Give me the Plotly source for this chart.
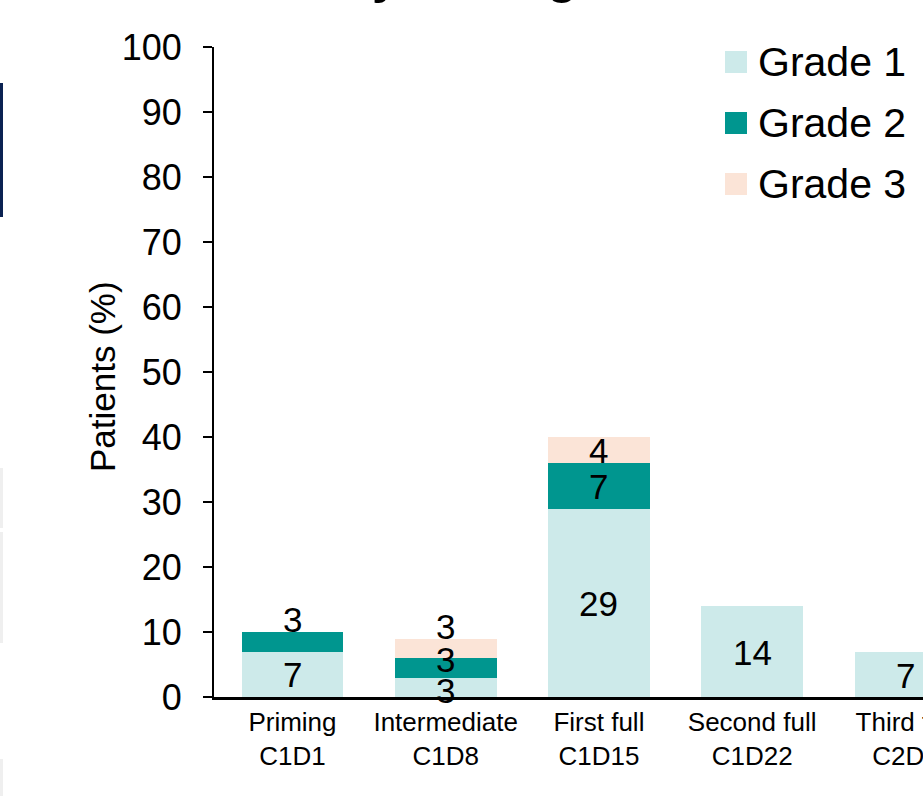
import plotly.graph_objects as go

# ---- data ----
categories = ["Priming<br>C1D1", "Intermediate<br>C1D8", "First full<br>C1D15",
              "Second full<br>C1D22", "Third full<br>C2D1"]
grade1 = [7, 3, 29, 14, 7]
grade2 = [3, 3, 7, 0, 0]
grade3 = [0, 3, 4, 0, 0]
series_names = ["Grade 1", "Grade 2", "Grade 3"]
y_ticks = list(range(0, 101, 10))
title_text = "CRS by dosing"
y_title = "Patients (%)"

# ---- style ----
colors = ["#CDEAEA", "#00968F", "#FBE4D7"]
FONT = "Liberation Sans, Arial, sans-serif"
W, H = 923, 796
ML, MR, MT, MB = 214, 0, 47, 99
PW, PH = W - ML - MR, H - MT - MB

# label pixel nudges (style only) per series, per category
label_shift = {
    0: [0, -3, -1, -1, -1],
    1: [22, 8, -1, 0, 0],
    2: [0, 22, 0, 0, 0],
}

def px(xp):
    return (xp - ML) / PW

def py(yp):
    return (H - MB - yp) / PH

series = [grade1, grade2, grade3]
fig = go.Figure()
for name, vals, col in zip(series_names, series, colors):
    fig.add_trace(go.Bar(x=categories, y=vals, name=name, marker_color=col,
                         marker_line_width=0, showlegend=False, hoverinfo="skip"))

annotations = []
base = [0] * len(categories)
for si, vals in enumerate(series):
    for ci, v in enumerate(vals):
        if v > 0:
            annotations.append(dict(
                x=categories[ci], y=base[ci] + v / 2, xref="x", yref="y",
                text=str(v), showarrow=False, yshift=label_shift[si][ci],
                font=dict(family=FONT, size=35, color="black"),
                xanchor="center", yanchor="middle"))
        base[ci] += v

# manual legend
legend_rows = [62, 123, 184]
shapes = []
for name, col, yc in zip(series_names, colors, legend_rows):
    shapes.append(dict(type="rect", xref="paper", yref="paper",
                       x0=px(725), x1=px(747), y0=py(yc + 11), y1=py(yc - 11),
                       fillcolor=col, line_width=0))
    annotations.append(dict(x=px(756), y=py(yc), xref="paper", yref="paper",
                            text=name, showarrow=False, xanchor="left", yanchor="middle",
                            font=dict(family=FONT, size=41, color="black")))

# y axis title
annotations.append(dict(x=px(102), y=py(377), xref="paper", yref="paper",
                        text=y_title, showarrow=False, textangle=-90,
                        xanchor="center", yanchor="middle",
                        font=dict(family=FONT, size=35, color="black")))

# decorations from slide at left edge
shapes.append(dict(type="rect", xref="paper", yref="paper", x0=px(0), x1=px(3),
                   y0=py(217), y1=py(83), fillcolor="#0B2252", line_width=0))
for y0, y1 in [(468, 528), (532, 643), (759, 796)]:
    shapes.append(dict(type="rect", xref="paper", yref="paper", x0=px(0), x1=px(3),
                       y0=py(y1), y1=py(y0), fillcolor="#EFEFEF", line_width=0))

# cut-off title at top
annotations.append(dict(x=px(220), y=py(6), xref="paper", yref="paper",
                        text="<b>" + title_text + "</b>", showarrow=False,
                        xanchor="left", yanchor="bottom",
                        font=dict(family=FONT, size=50, color="black")))

fig.update_layout(
    template="none",
    width=W, height=H,
    margin=dict(l=ML, r=MR, t=MT, b=MB, pad=0),
    paper_bgcolor="white", plot_bgcolor="white",
    barmode="stack", bargap=0.336,
    showlegend=False,
    font=dict(family=FONT, color="black"),
    annotations=annotations, shapes=shapes,
    xaxis=dict(range=[-0.512, 4.115], showline=True, linecolor="black", linewidth=3,
               showgrid=False, zeroline=False, ticks="", automargin=False,
               tickfont=dict(family=FONT, size=26, color="black")),
    yaxis=dict(range=[0, 100], tickvals=y_ticks, showline=True, linecolor="black",
               linewidth=2, showgrid=False, zeroline=False, ticks="outside",
               ticklen=9, tickwidth=2, tickcolor="black", automargin=False,
               ticklabelstandoff=14,
               tickfont=dict(family=FONT, size=36, color="black")),
)

fig.write_html("out.html")
